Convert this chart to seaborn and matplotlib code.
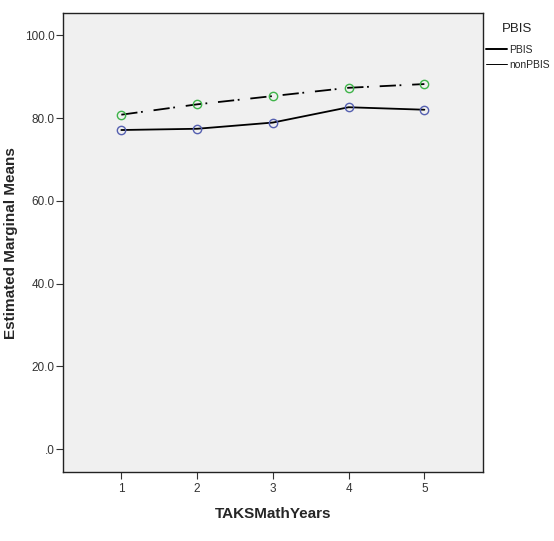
import numpy as np
import pandas as pd
import seaborn as sns
from matplotlib import pyplot as plt
from matplotlib.lines import Line2D

# data
years = [1, 2, 3, 4, 5]
pbis = [77.1, 77.4, 78.9, 82.6, 82.0]
nonpbis = [80.8, 83.3, 85.3, 87.3, 88.2]
groups = ['PBIS', 'nonPBIS']
y_ticks = [0, 20, 40, 60, 80, 100]
y_labels = ['.0', '20.0', '40.0', '60.0', '80.0', '100.0']

df = pd.DataFrame({
    'TAKSMathYears': years * 2,
    'mean': pbis + nonpbis,
    'PBIS': ['PBIS'] * 5 + ['nonPBIS'] * 5,
})

sns.set_style('white')
plt.rcParams['font.family'] = ['Liberation Sans', 'DejaVu Sans']

fig = plt.figure(figsize=(5.54, 5.41), dpi=100)
ax = fig.add_axes([0.1137, 0.1275, 0.7576, 0.848])
ax.set_facecolor('#f0f0f0')

styles = {
    'PBIS': dict(linestyle='-', markeredgecolor='#5560b0', linewidth=1.3),
    'nonPBIS': dict(linestyle=(0, (9, 2, 1, 6)),
                    markeredgecolor='#3fb44a', linewidth=1.3),
}
for g in groups:
    sub = df[df['PBIS'] == g]
    sns.lineplot(data=sub, x='TAKSMathYears', y='mean', color='black', marker='o',
                 markersize=6, markerfacecolor='none', markeredgewidth=1.0,
                 ax=ax, **styles[g])

ax.set_xlim(0.23, 5.77)
ax.set_ylim(-5.5, 105.3)
ax.set_xticks(years)
ax.set_yticks(y_ticks)
ax.set_yticklabels(y_labels)
ax.tick_params(axis='both', direction='out', length=5, width=0.8, color='#333333',
               labelsize=8.5, labelcolor='#333333', bottom=True, left=True)
ax.tick_params(axis='x', pad=3)
ax.tick_params(axis='y', pad=1.2)
for s in ax.spines.values():
    s.set_color('#222222')
    s.set_linewidth(1.0)

ax.set_xlabel('TAKSMathYears', fontsize=11, fontweight='bold')
ax.set_ylabel('Estimated Marginal Means', fontsize=11, fontweight='bold')
ax.xaxis.set_label_coords(0.5, -0.076)
ax.yaxis.set_label_coords(-0.107, 0.5)

# legend: title on its own, items below it
fig.text(517 / 554, 1 - 29 / 541, 'PBIS', fontsize=9.5, color='#222222',
         ha='center', va='center')
handles = [Line2D([], [], color='black', lw=1.4), Line2D([], [], color='black', lw=0.7)]
leg = ax.legend(handles, groups, loc='upper left',
                bbox_to_anchor=(486 / 554, 1 - 45 / 541), bbox_transform=fig.transFigure,
                frameon=False, fontsize=7.5, handlelength=2.0,
                handletextpad=0.2, labelspacing=0.45, borderpad=0, borderaxespad=0)

fig.savefig('out.png', dpi=100)
